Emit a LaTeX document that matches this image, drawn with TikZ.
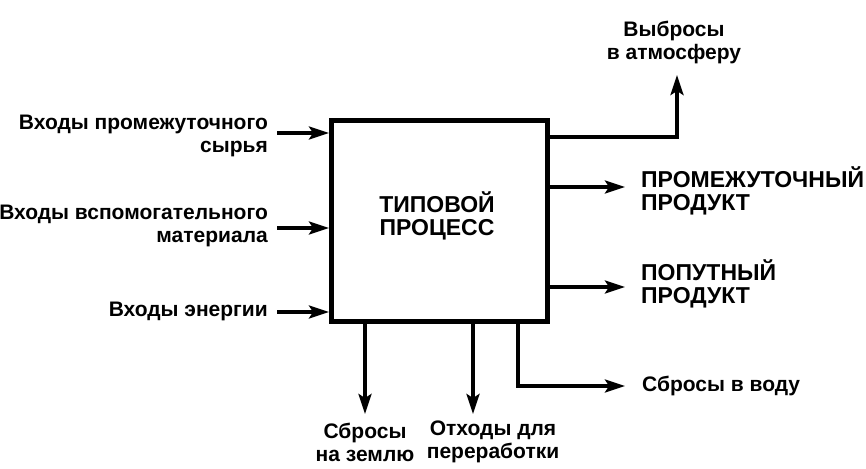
\documentclass[tikz,border=0pt]{standalone}
\usepackage{fontspec}
\setmainfont{Liberation Sans}
\usetikzlibrary{arrows.meta}
\begin{document}
\begin{tikzpicture}[x=1pt,y=-1pt,
  lbl/.style={font=\fontsize{21}{23}\selectfont\bfseries, inner sep=0pt},
  capslbl/.style={font=\fontsize{23}{23}\selectfont\bfseries, inner sep=0pt},
  arr/.style={line width=3.5pt, -{Stealth[length=20pt,width=13pt,inset=4pt]}},
  procbox/.style={draw, line width=5pt, minimum width=216pt, minimum height=201pt, inner sep=0pt}]
\useasboundingbox (0,0) rectangle (866,468);
\node[procbox] (box) at (439.5,221) {};
\node[capslbl, align=center] (title) at (437,216) {ТИПОВОЙ\\ПРОЦЕСС};
% inputs
\coordinate (i1) at (277,133);
\coordinate (i2) at (277,228);
\coordinate (i3) at (277,312);
\draw[arr] (i1) -- (i1 -| box.west);
\draw[arr] (i2) -- (i2 -| box.west);
\draw[arr] (i3) -- (i3 -| box.west);
\node[lbl, align=right, anchor=east] (l1) at (268,136) {Входы промежуточного\\сырья};
\node[lbl, align=right, anchor=east] (l2) at (268,226) {Входы вспомогательного\\материала};
\node[lbl, align=right, anchor=east] (l3) at (268,311) {Входы энергии};
% atmosphere
\coordinate (a0) at (box.east |- 0,137);
\coordinate (a1) at (677,137);
\coordinate (a2) at (677,75);
\draw[arr] (a0) -- (a1) -- (a2);
\node[lbl, align=center] (la) at (674,42) {Выбросы\\в атмосферу};
% products
\coordinate (p1) at (625,187);
\coordinate (p2) at (625,287);
\draw[arr] (p1 -| box.east) -- (p1);
\draw[arr] (p2 -| box.east) -- (p2);
\node[capslbl, align=left, anchor=west] (lp1) at (641,191) {ПРОМЕЖУТОЧНЫЙ\\ПРОДУКТ};
\node[capslbl, align=left, anchor=west] (lp2) at (641,284) {ПОПУТНЫЙ\\ПРОДУКТ};
% water
\coordinate (w0) at (518,0);
\coordinate (w1) at (518,386);
\coordinate (w2) at (625,386);
\draw[arr] (w0 |- box.south) -- (w1) -- (w2);
\node[lbl, anchor=west] (lw) at (642,386) {Сбросы в воду};
% bottom
\coordinate (b1) at (365,414);
\coordinate (b2) at (473,414);
\draw[arr] (b1 |- box.south) -- (b1);
\draw[arr] (b2 |- box.south) -- (b2);
\node[lbl, align=center] (lb1) at (365,442) {Сбросы\\на землю};
\node[lbl, align=center] (lb2) at (493,442) {Отходы для\\переработки};
\end{tikzpicture}
\end{document}
